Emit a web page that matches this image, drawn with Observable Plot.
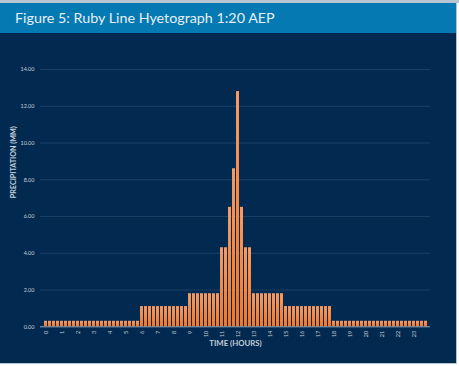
<!DOCTYPE html>
<html>
<head>
<meta charset="utf-8">
<script src="https://cdn.jsdelivr.net/npm/d3@7"></script>
<script src="https://cdn.jsdelivr.net/npm/@observablehq/plot@0.6"></script>
<style>
  html, body { margin: 0; padding: 0; background: #ffffff; }
  body { width: 459px; height: 366px; position: relative; overflow: hidden; font-family: Lato, "Open Sans", sans-serif; }
  #topstrip { position: absolute; left: 0; top: 0; width: 459px; height: 3px; background: #b9c6d2; }
  #panel { position: absolute; left: 0; top: 3px; width: 456px; height: 360px; background: #022a50;
           border-right: 1px solid #b8c2cc; border-bottom: 1px solid #b8c2cc; }
  #titlebar { position: absolute; left: 0; top: 0; width: 456px; height: 30px; background: #0579b1; }
  #title { position: absolute; left: 15px; top: 6px; color: #e6eff7; font-size: 14.3px; font-family: Lato, "Open Sans", sans-serif; white-space: nowrap; }
  #chart { position: absolute; left: 0; top: 30px; }
</style>
</head>
<body>
<div id="topstrip"></div>
<div id="panel">
  <div id="titlebar"><div id="title">Figure 5: Ruby Line Hyetograph 1:20 AEP</div></div>
  <div id="chart"></div>
</div>
<script>
// Precipitation (mm) per 15-minute interval, 96 intervals over 24 hours
const precipitation = [
  0.3, 0.3, 0.3, 0.3, 0.3, 0.3, 0.3, 0.3, 0.3, 0.3, 0.3, 0.3,
  0.3, 0.3, 0.3, 0.3, 0.3, 0.3, 0.3, 0.3, 0.3, 0.3, 0.3, 0.3,
  1.1, 1.1, 1.1, 1.1, 1.1, 1.1, 1.1, 1.1, 1.1, 1.1, 1.1, 1.1,
  1.8, 1.8, 1.8, 1.8, 1.8, 1.8, 1.8, 1.8,
  4.3, 4.3, 6.5, 8.6, 12.8, 6.5, 4.3, 4.3,
  1.8, 1.8, 1.8, 1.8, 1.8, 1.8, 1.8, 1.8,
  1.1, 1.1, 1.1, 1.1, 1.1, 1.1, 1.1, 1.1, 1.1, 1.1, 1.1, 1.1,
  0.3, 0.3, 0.3, 0.3, 0.3, 0.3, 0.3, 0.3, 0.3, 0.3, 0.3, 0.3,
  0.3, 0.3, 0.3, 0.3, 0.3, 0.3, 0.3, 0.3, 0.3, 0.3, 0.3, 0.3
];
const intervalsPerHour = 4;
const times = precipitation.map((_, i) => i / intervalsPerHour); // category positions (hours)
const hourTicks = [0,1,2,3,4,5,6,7,8,9,10,11,12,13,14,15,16,17,18,19,20,21,22,23];
const yTicks = [0, 2, 4, 6, 8, 10, 12, 14];
const gridTicks = [2, 4, 6, 8, 10, 12, 14];
const yTitle = "PRECIPITATION (MM)";
const xTitle = "TIME (HOURS)";

const data = precipitation.map((v, i) => ({t: times[i], v}));

const labelColor = "#c5ced8";

const chart = Plot.plot({
  width: 456,
  height: 330,
  marginLeft: 40,
  marginRight: 26,
  marginTop: 36,
  marginBottom: 36.7,
  style: {background: "transparent", color: labelColor, fontFamily: "Lato, 'Open Sans', sans-serif", fontSize: "5.5px", overflow: "visible"},
  x: {type: "band", domain: times, paddingInner: 0.25, paddingOuter: 0.1, axis: null},
  y: {domain: [0, 14], axis: null},
  marks: [
    Plot.ruleY(gridTicks, {stroke: "#1c3f66", strokeWidth: 1}),
    Plot.barY(data, {x: "t", y: "v", fill: "url(#barGrad)"}),
    Plot.ruleY([0], {stroke: "#9ba8b6", strokeWidth: 1}),
    Plot.axisY({ticks: yTicks, tickFormat: d => d.toFixed(2), tickSize: 0, tickPadding: 6, label: null, fill: labelColor}),
    Plot.axisX({ticks: hourTicks, tickFormat: d => String(d), tickRotate: -90, tickSize: 0, tickPadding: 4, label: null, fill: labelColor}),
    Plot.text([yTitle], {text: d => d, frameAnchor: "left", rotate: -90, dx: -27, fontSize: 7.2, fontWeight: "bold", fill: labelColor}),
    Plot.text([xTitle], {text: d => d, frameAnchor: "bottom", dy: 18.7, fontSize: 7.8, fontWeight: "bold", fill: labelColor})
  ]
});

// gradient fill for the bars
const svg = d3.select(chart);
const defs = svg.insert("defs", ":first-child");
const grad = defs.append("linearGradient").attr("id", "barGrad")
  .attr("x1", 0).attr("y1", 0).attr("x2", 0).attr("y2", 1);
grad.append("stop").attr("offset", "0%").attr("stop-color", "#f79a62");
grad.append("stop").attr("offset", "100%").attr("stop-color", "#f27626");

document.getElementById("chart").appendChild(chart);
</script>
</body>
</html>
